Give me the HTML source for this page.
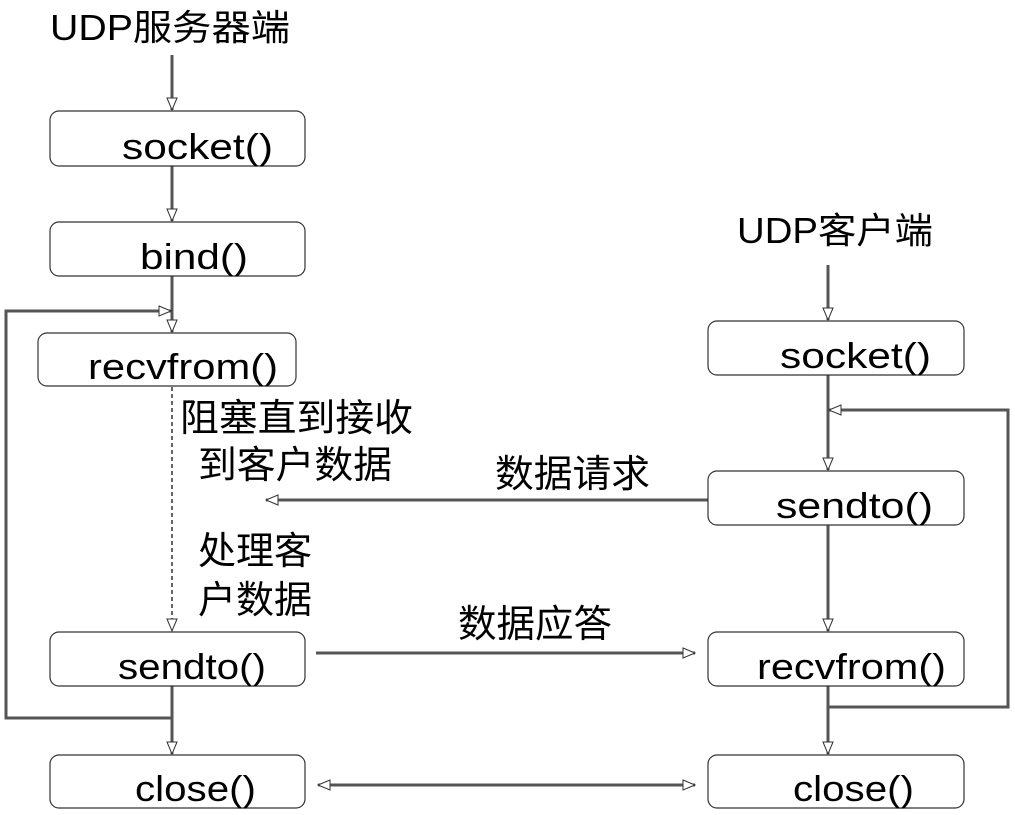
<!DOCTYPE html>
<html><head><meta charset="utf-8"><style>
html,body{margin:0;padding:0;background:#fff;width:1015px;height:815px;overflow:hidden}
text{font-family:"Liberation Sans","Noto Sans CJK SC",sans-serif;fill:#000}
</style></head><body>
<svg width="1015" height="815" viewBox="0 0 1015 815" xmlns="http://www.w3.org/2000/svg">
<defs>
<marker id="a" markerWidth="14" markerHeight="12" refX="13" refY="6" orient="auto" markerUnits="userSpaceOnUse">
<path d="M1,1 L13,6 L1,11 Z" fill="#fff" stroke="#333" stroke-width="1"/></marker>
<marker id="b" markerWidth="14" markerHeight="12" refX="1" refY="6" orient="auto" markerUnits="userSpaceOnUse">
<path d="M13,1 L1,6 L13,11 Z" fill="#fff" stroke="#333" stroke-width="1"/></marker>
</defs>
<g fill="none" stroke="#555" stroke-width="3">
<line x1="172" y1="55" x2="172" y2="110" marker-end="url(#a)"/>
<line x1="172" y1="166" x2="172" y2="221" marker-end="url(#a)"/>
<line x1="172" y1="276" x2="172" y2="332" marker-end="url(#a)"/>
<line x1="172" y1="686" x2="172" y2="754" marker-end="url(#a)"/>
<polyline points="172,718 6,718 6,311 171,311" marker-end="url(#a)"/>
<line x1="828" y1="265" x2="828" y2="320" marker-end="url(#a)"/>
<line x1="828" y1="375" x2="828" y2="470" marker-end="url(#a)"/>
<line x1="828" y1="525" x2="828" y2="631" marker-end="url(#a)"/>
<line x1="828" y1="686" x2="828" y2="754" marker-end="url(#a)"/>
<polyline points="828,707 1008,707 1008,410 829,410" marker-end="url(#a)"/>
<line x1="708" y1="500" x2="266" y2="500" marker-end="url(#a)"/>
<line x1="316" y1="653" x2="695" y2="653" marker-end="url(#a)"/>
<line x1="318" y1="785" x2="695" y2="785" marker-start="url(#b)" marker-end="url(#a)"/>
</g>
<line x1="172" y1="387" x2="172" y2="631" stroke="#333" stroke-width="1.5" stroke-dasharray="4,3" marker-end="url(#a)"/>
<g fill="#fff" stroke="#333" stroke-width="1.2">
<rect x="50" y="111" width="255" height="55" rx="9"/>
<rect x="50" y="222" width="255" height="54" rx="9"/>
<rect x="38" y="333" width="258" height="53" rx="9"/>
<rect x="50" y="632" width="255" height="54" rx="9"/>
<rect x="50" y="755" width="255" height="53" rx="9"/>
<rect x="708" y="321" width="256" height="54" rx="9"/>
<rect x="708" y="471" width="256" height="54" rx="9"/>
<rect x="708" y="632" width="256" height="54" rx="9"/>
<rect x="708" y="755" width="256" height="53" rx="9"/>
</g>
<g font-size="36" lengthAdjust="spacingAndGlyphs">
<text x="50" y="40" textLength="240" lengthAdjust="spacingAndGlyphs">UDP服务器端</text>
<text x="737" y="243" textLength="196" lengthAdjust="spacingAndGlyphs">UDP客户端</text>
<text x="122" y="159" textLength="151" lengthAdjust="spacingAndGlyphs">socket()</text>
<text x="140" y="269" textLength="108" lengthAdjust="spacingAndGlyphs">bind()</text>
<text x="88" y="379" textLength="190" lengthAdjust="spacingAndGlyphs">recvfrom()</text>
<text x="118" y="679" textLength="148" lengthAdjust="spacingAndGlyphs">sendto()</text>
<text x="135" y="801" textLength="121" lengthAdjust="spacingAndGlyphs">close()</text>
<text x="780" y="368" textLength="151" lengthAdjust="spacingAndGlyphs">socket()</text>
<text x="776" y="518" textLength="157" lengthAdjust="spacingAndGlyphs">sendto()</text>
<text x="757" y="679" textLength="189" lengthAdjust="spacingAndGlyphs">recvfrom()</text>
<text x="793" y="801" textLength="121" lengthAdjust="spacingAndGlyphs">close()</text>
</g>
<g font-size="38">
<text x="180" y="431" textLength="233" lengthAdjust="spacingAndGlyphs">阻塞直到接收</text>
<text x="198" y="478" textLength="194" lengthAdjust="spacingAndGlyphs">到客户数据</text>
<text x="198" y="564" textLength="114" lengthAdjust="spacingAndGlyphs">处理客</text>
<text x="198" y="613" textLength="114" lengthAdjust="spacingAndGlyphs">户数据</text>
<text x="495" y="487" textLength="155" lengthAdjust="spacingAndGlyphs">数据请求</text>
<text x="458" y="637" textLength="154" lengthAdjust="spacingAndGlyphs">数据应答</text>
</g>
</svg>
</body></html>
